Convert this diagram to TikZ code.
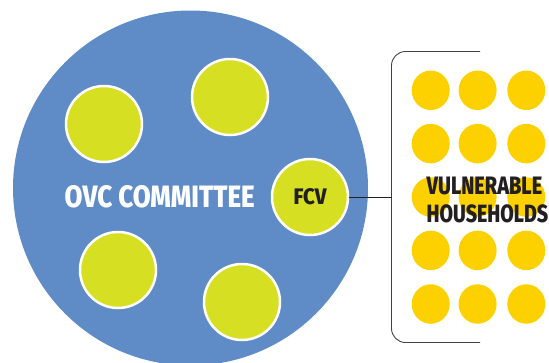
\documentclass[tikz,border=0pt]{standalone}
\usepackage{fontspec}
\setmainfont{Fira Sans}[BoldFont={Fira Sans ExtraBold}]
\usetikzlibrary{shapes.geometric}
\definecolor{ovcblue}{HTML}{5F8CC7}
\definecolor{fcvgreen}{HTML}{D6DF22}
\definecolor{hhyellow}{HTML}{FDD100}
\definecolor{inkdark}{HTML}{231F20}
\tikzset{
  member/.style={circle, fill=fcvgreen, draw=white, line width=2.5pt, minimum size=76pt, inner sep=0pt},
  household/.style={ellipse, fill=hhyellow, minimum width=38pt, minimum height=39.5pt, inner sep=0pt},
  bracketline/.style={draw=inkdark!85, line width=0.9pt, rounded corners=14pt},
  link/.style={draw=inkdark, line width=0.9pt},
  label/.style={inner sep=0pt, font=\bfseries}
}
\begin{document}
\begin{tikzpicture}[x=1pt, y=-1pt]
  \useasboundingbox (0,0) rectangle (549,362);
  % committee
  \fill[ovcblue] (190.5,188) circle (177.5pt);
  \node[member] (m1) at (104,124) {};
  \node[member] (m2) at (230,97) {};
  \node[member] (m3) at (118,270) {};
  \node[member] (m4) at (242,302) {};
  \node[member] (fcv) at (310,197) {};
  \node[label, text=inkdark] (fcvtext) at (310,197) {\resizebox{33pt}{16pt}{FCV}};
  \node[label, text=white, anchor=west] (ovc) at (64.5,197) {\resizebox{190pt}{22pt}{OVC COMMITTEE}};
  % households
  \foreach \c/\x in {1/430.7,2/477.6,3/526.3}
    \foreach \r/\y in {1/90.3,2/143.6,3/197,4/250.4,5/304}
      \node[household] (h\r\c) at (\x,\y) {};
  \node[label, text=inkdark, anchor=north west] (vuln) at (426.5,176.8) {\resizebox{115.5pt}{17.5pt}{VULNERABLE}};
  \node[label, text=inkdark, anchor=north west] (hh) at (426.5,204) {\resizebox{121.5pt}{17.8pt}{HOUSEHOLDS}};
  % bracket round the households
  \coordinate (btop) at (480,51.5);
  \coordinate (bbot) at (480,342.5);
  \coordinate (bmid) at (391.5,197);
  \draw[bracketline] (btop) -- (391.5,51.5) -- (391.5,342.5) -- (bbot);
  \draw[link] (fcv.east) -- (bmid);
\end{tikzpicture}
\end{document}
